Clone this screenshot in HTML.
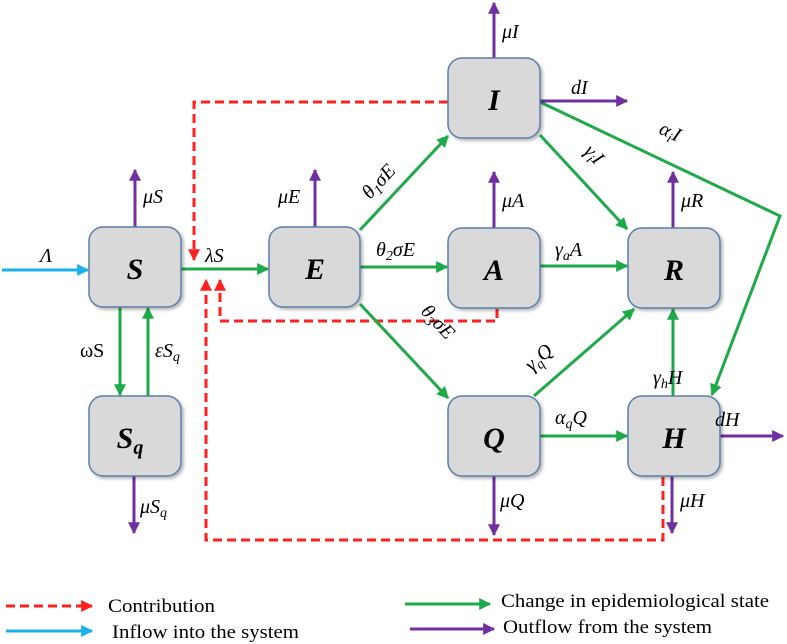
<!DOCTYPE html>
<html><head><meta charset="utf-8"><style>body{margin:0;background:#fff}svg{display:block}</style></head>
<body>
<svg width="787" height="644" viewBox="0 0 787 644" xmlns="http://www.w3.org/2000/svg" font-family="Liberation Serif, serif">
<defs>
<marker id="g" viewBox="0 0 10 10" refX="9" refY="5" markerWidth="4" markerHeight="4" orient="auto"><path d="M0,0L10,5L0,10z" fill="#1faa4a"/></marker>
<marker id="p" viewBox="0 0 10 10" refX="9" refY="5" markerWidth="4" markerHeight="4" orient="auto"><path d="M0,0L10,5L0,10z" fill="#7030a0"/></marker>
<marker id="b" viewBox="0 0 10 10" refX="9" refY="5" markerWidth="4" markerHeight="4" orient="auto"><path d="M0,0L10,5L0,10z" fill="#1ab0ea"/></marker>
<marker id="r" viewBox="0 0 10 10" refX="9" refY="5" markerWidth="4" markerHeight="4" orient="auto"><path d="M0,0L10,5L0,10z" fill="#ff2020"/></marker>
<filter id="sh"><feDropShadow dx="2" dy="2" stdDeviation="1.5" flood-opacity="0.3"/></filter>
</defs>
<g fill="none" stroke-width="3">
<g stroke="#ff2020" stroke-dasharray="9,5">
<path d="M448,102 H194 V260" marker-end="url(#r)"/>
<path d="M497,309 V321 H220 V280" marker-end="url(#r)"/>
<path d="M663,477 V540 H206 V280" marker-end="url(#r)"/>
<path d="M6,606 H92" marker-end="url(#r)"/>
</g>
<path d="M2,270 H88" stroke="#1ab0ea" marker-end="url(#b)"/>
<path d="M6,631 H92" stroke="#1ab0ea" marker-end="url(#b)"/>
<g stroke="#1faa4a">
<path d="M181,269 H268" marker-end="url(#g)"/>
<path d="M360,230 L448,136" marker-end="url(#g)"/>
<path d="M360,267 H447" marker-end="url(#g)"/>
<path d="M360,304 L448,398" marker-end="url(#g)"/>
<path d="M540,135 L627,229" marker-end="url(#g)"/>
<path d="M540,102 L780,216 L712,395" marker-end="url(#g)"/>
<path d="M540,266 H627" marker-end="url(#g)"/>
<path d="M534,396 L634,309" marker-end="url(#g)"/>
<path d="M673,396 V309" marker-end="url(#g)"/>
<path d="M540,436 H627" marker-end="url(#g)"/>
<path d="M120,307 V395" marker-end="url(#g)"/>
<path d="M148,396 V308" marker-end="url(#g)"/>
<path d="M405,604 H490" marker-end="url(#g)"/>
</g>
<g stroke="#7030a0">
<path d="M135,227 V170" marker-end="url(#p)"/>
<path d="M315,227 V170" marker-end="url(#p)"/>
<path d="M494,58 V3" marker-end="url(#p)"/>
<path d="M540,101 H627" marker-end="url(#p)"/>
<path d="M494,228 V172" marker-end="url(#p)"/>
<path d="M673,228 V172" marker-end="url(#p)"/>
<path d="M720,436 H783" marker-end="url(#p)"/>
<path d="M494,476 V535" marker-end="url(#p)"/>
<path d="M672,476 V533" marker-end="url(#p)"/>
<path d="M134,476 V533" marker-end="url(#p)"/>
<path d="M410,629 H494" marker-end="url(#p)"/>
</g>
</g>
<g fill="#d9d9d9" stroke="#5b7fa8" stroke-width="1.5" filter="url(#sh)">
<rect x="89" y="227" width="92" height="80" rx="14"/>
<rect x="269" y="227" width="91" height="80" rx="14"/>
<rect x="448" y="58" width="92" height="80" rx="14"/>
<rect x="448" y="228" width="92" height="80" rx="14"/>
<rect x="628" y="228" width="92" height="80" rx="14"/>
<rect x="89" y="396" width="92" height="80" rx="14"/>
<rect x="448" y="396" width="92" height="80" rx="14"/>
<rect x="628" y="396" width="92" height="80" rx="14"/>
</g>
<g font-weight="bold" font-style="italic" font-size="30" text-anchor="middle">
<text x="135" y="279">S</text>
<text x="315" y="279">E</text>
<text x="494" y="110">I</text>
<text x="494" y="280">A</text>
<text x="674" y="280">R</text>
<text x="130" y="448">S<tspan font-size="20" dy="6">q</tspan></text>
<text x="494" y="448">Q</text>
<text x="674" y="448">H</text>
</g>
<g font-style="italic" font-size="20">
<text x="40" y="262">Λ</text>
<text x="205" y="262">λS</text>
<text x="143" y="203">μS</text>
<text x="278" y="203">μE</text>
<text x="502" y="38">μI</text>
<text x="571" y="94">dI</text>
<text x="502" y="207">μA</text>
<text x="681" y="207">μR</text>
<text x="376" y="256">θ<tspan font-size="14" dy="4">2</tspan><tspan dy="-4">σE</tspan></text>
<text x="555" y="256">γ<tspan font-size="14" dy="4">a</tspan><tspan dy="-4">A</tspan></text>
<text x="555" y="424">α<tspan font-size="14" dy="4">q</tspan><tspan dy="-4">Q</tspan></text>
<text x="715" y="426">dH</text>
<text x="653" y="384">γ<tspan font-size="14" dy="4">h</tspan><tspan dy="-4">H</tspan></text>
<text x="500" y="507">μQ</text>
<text x="680" y="507">μH</text>
<text x="140" y="513">μS<tspan font-size="14" dy="4">q</tspan></text>
<text x="80" y="357" font-style="normal">ωS</text>
<text x="155" y="357">εS<tspan font-size="14" dy="4">q</tspan></text>
<text transform="translate(370,200) rotate(-47)">θ<tspan font-size="14" dy="4">1</tspan><tspan dy="-4">σE</tspan></text>
<text transform="translate(420,312) rotate(47)">θ<tspan font-size="14" dy="4">3</tspan><tspan dy="-4">σE</tspan></text>
<text transform="translate(583,152) rotate(47)">γ<tspan font-size="14" dy="4">i</tspan><tspan dy="-4">I</tspan></text>
<text transform="translate(658,133) rotate(25)">α<tspan font-size="14" dy="4">i</tspan><tspan dy="-4">I</tspan></text>
<text transform="translate(532,372) rotate(-42)">γ<tspan font-size="14" dy="4">q</tspan><tspan dy="-4">Q</tspan></text>
</g>
<g font-size="19">
<text x="108" y="612" textLength="107" lengthAdjust="spacingAndGlyphs">Contribution</text>
<text x="112" y="638" textLength="187" lengthAdjust="spacingAndGlyphs">Inflow into the system</text>
<text x="501" y="607" textLength="268" lengthAdjust="spacingAndGlyphs">Change in epidemiological state</text>
<text x="503" y="633" textLength="209" lengthAdjust="spacingAndGlyphs">Outflow from the system</text>
</g>
</svg>
</body></html>
